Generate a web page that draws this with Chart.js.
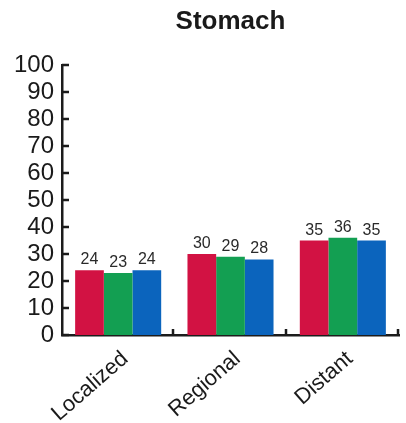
<!DOCTYPE html>
<html>
<head>
<meta charset="utf-8">
<script src="https://cdn.jsdelivr.net/npm/chart.js@4"></script>
<style>
    html, body { margin: 0; padding: 0; background: #fff; }
    #wrap { width: 406px; height: 423px; }
</style>
</head>
<body>
<div id="wrap"><canvas id="chart" width="406" height="423"></canvas></div>
<script>
const stages = ['Localized', 'Regional', 'Distant'];
const seriesRed = [24, 30, 35];
const seriesGreen = [23, 29, 36];
const seriesBlue = [24, 28, 35];
const yTicks = [0, 10, 20, 30, 40, 50, 60, 70, 80, 90, 100];
const chartTitle = 'Stomach';

const axisColor = '#1c1c1c';
const fontFamily = '"Liberation Sans", Arial, sans-serif';

// short ticks pointing into the plot, like the printed figure
const innerTicks = {
    id: 'innerTicks',
    afterDraw(chart) {
        const ctx = chart.ctx;
        const x = chart.scales.x;
        const y = chart.scales.y;
        ctx.save();
        ctx.strokeStyle = axisColor;
        ctx.lineWidth = 2.5;
        ctx.beginPath();
        yTicks.forEach(v => {
            const py = Math.round(y.getPixelForValue(v));
            ctx.moveTo(x.left, py);
            ctx.lineTo(x.left + 7, py);
        });
        const step = (x.right - x.left) / stages.length;
        for (let i = 1; i <= stages.length; i++) {
            const px = Math.round(x.left + step * i) - 1;
            ctx.moveTo(px, y.bottom);
            ctx.lineTo(px, y.bottom - 6);
        }
        ctx.stroke();
        ctx.restore();
    }
};

// value printed above each bar
const barValues = {
    id: 'barValues',
    afterDatasetsDraw(chart) {
        const ctx = chart.ctx;
        ctx.save();
        ctx.font = '16px ' + fontFamily;
        ctx.fillStyle = '#2a2a2a';
        ctx.textAlign = 'center';
        ctx.textBaseline = 'alphabetic';
        chart.data.datasets.forEach((ds, i) => {
            chart.getDatasetMeta(i).data.forEach((bar, j) => {
                ctx.fillText(ds.data[j], bar.x, bar.y - 6);
            });
        });
        ctx.restore();
    }
};

// title centred over the plot area rather than the whole canvas
const plotTitle = {
    id: 'plotTitle',
    afterDraw(chart) {
        const ctx = chart.ctx;
        const area = chart.chartArea;
        ctx.save();
        ctx.font = 'bold 26px ' + fontFamily;
        ctx.fillStyle = '#1a1a1a';
        ctx.textAlign = 'center';
        ctx.textBaseline = 'alphabetic';
        ctx.fillText(chartTitle, (area.left + area.right) / 2, 29);
        ctx.restore();
    }
};

new Chart(document.getElementById('chart').getContext('2d'), {
    type: 'bar',
    data: {
        labels: stages,
        datasets: [
            { data: seriesRed, backgroundColor: '#d21243' },
            { data: seriesGreen, backgroundColor: '#139f52' },
            { data: seriesBlue, backgroundColor: '#0b64bd' }
        ]
    },
    options: {
        responsive: false,
        animation: false,
        layout: { padding: { left: 0, right: 7, top: 65, bottom: 0 } },
        plugins: {
            legend: { display: false },
            tooltip: { enabled: false },
            title: { display: false }
        },
        datasets: {
            bar: { categoryPercentage: 0.766, barPercentage: 1.0 }
        },
        scales: {
            x: {
                grid: { display: false, drawTicks: false },
                border: { display: true, color: axisColor, width: 2.5 },
                ticks: {
                    color: '#1a1a1a',
                    font: { family: fontFamily, size: 22 },
                    minRotation: 41,
                    maxRotation: 41,
                    labelOffset: 7,
                    padding: 11
                },
                afterFit(scale) { scale.height = 88; }
            },
            y: {
                min: 0,
                max: 100,
                grid: { display: false, drawTicks: false },
                border: { display: true, color: axisColor, width: 2.5 },
                ticks: {
                    stepSize: 10,
                    autoSkip: false,
                    color: '#1a1a1a',
                    font: { family: fontFamily, size: 24 },
                    padding: 8
                },
                afterFit(scale) { scale.width = 62; }
            }
        }
    },
    plugins: [innerTicks, barValues, plotTitle]
});
</script>
</body>
</html>
